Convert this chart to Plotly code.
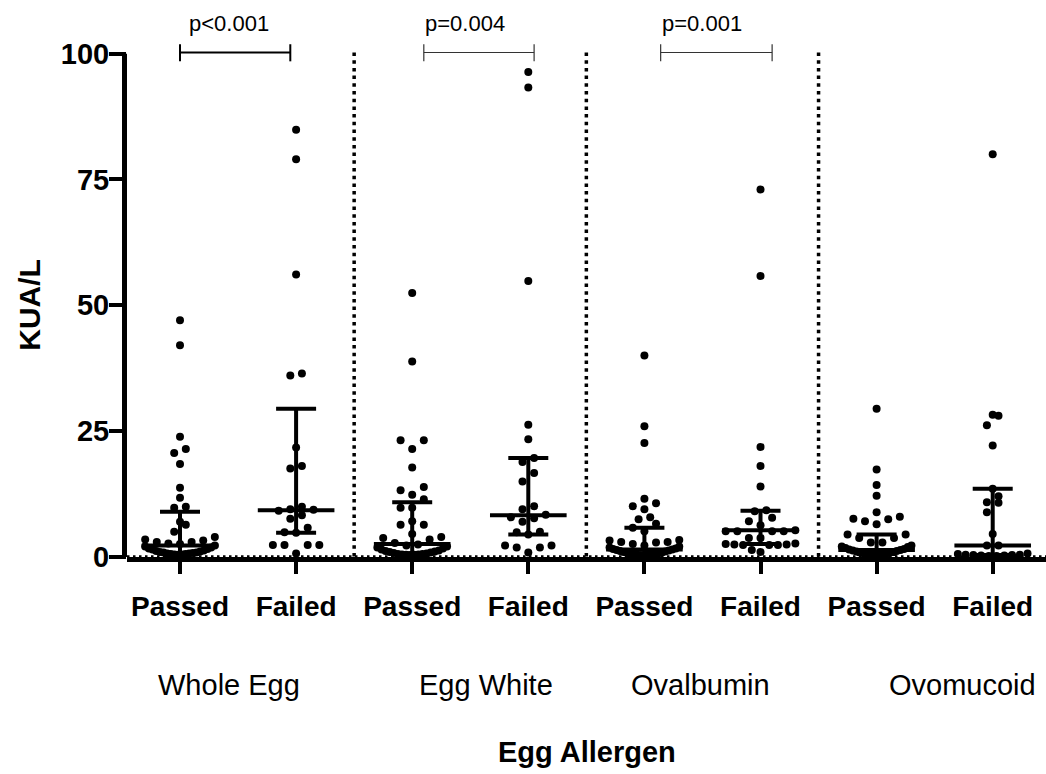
import numpy as np
import plotly.graph_objects as go

# Category axis: challenge outcome within each egg allergen
OUTCOMES = ["Passed", "Failed", "Passed", "Failed", "Passed", "Failed", "Passed", "Failed"]
ALLERGENS = ["Whole Egg", "Egg White", "Ovalbumin", "Ovomucoid"]
Y_TICKS = [0, 25, 50, 75, 100]

# Specific IgE (KUA/L) per child
whole_egg_passed = [47.0, 42.0, 23.8, 21.4, 20.6, 18.4, 13.7, 11.7, 9.9, 9.7,
                    6.9, 6.3, 4.9, 3.9, 3.4, 3.2, 2.9, 2.9, 2.6, 2.5,
                    2.2, 2.0, 1.8, 1.6, 1.5, 1.4, 1.2, 1.1, 1.0, 0.9,
                    0.8, 0.8, 0.7, 0.6, 0.6, 0.5, 0.5, 0.4, 0.4, 0.35]
whole_egg_failed = [84.9, 79.0, 56.1, 36.4, 36.0, 21.7, 18.0, 17.5, 9.9, 9.4,
                    9.3, 9.1, 8.2, 7.5, 5.7, 4.8, 4.7, 2.3, 2.3, 2.3, 2.3, 0.6]
egg_white_passed = [52.4, 38.8, 23.1, 23.1, 21.4, 17.7, 13.8, 13.2, 12.3, 11.4,
                    9.7, 9.7, 7.0, 6.3, 6.3, 4.5, 3.9, 3.7, 3.4, 2.7,
                    2.4, 2.2, 2.0, 1.8, 1.6, 1.4, 1.2, 1.1, 1.0, 0.9,
                    0.8, 0.7, 0.6, 0.5, 0.5, 0.4, 0.4, 0.35, 0.35, 0.3]
egg_white_failed = [96.4, 93.3, 54.8, 26.2, 23.3, 19.6, 18.8, 16.6, 14.9, 10.0,
                    9.4, 8.3, 7.8, 7.6, 6.9, 4.9, 4.8, 4.4, 2.2, 2.2, 1.8, 1.8, 0.8]
ovalbumin_passed = [40.0, 25.9, 22.6, 11.5, 10.6, 10.0, 9.4, 7.8, 7.4, 6.5,
                    5.7, 5.0, 3.3, 3.2, 2.9, 2.9, 2.8, 2.5, 2.2, 2.0,
                    1.8, 1.6, 1.5, 1.4, 1.3, 1.2, 1.1, 1.0, 0.9, 0.8,
                    0.7, 0.6, 0.5, 0.5, 0.4, 0.4, 0.35, 0.35, 0.3, 0.3]
ovalbumin_failed = [73.0, 55.8, 21.8, 18.0, 13.9, 9.2, 9.0, 7.7, 7.0, 6.2,
                    5.2, 5.0, 5.0, 5.0, 5.0, 3.7, 3.7, 2.6, 2.5, 2.4,
                    2.4, 2.3, 2.3, 2.3, 1.3, 0.9]
ovomucoid_passed = [29.4, 17.3, 14.2, 12.1, 8.8, 7.9, 7.5, 7.4, 7.0, 6.4,
                    4.4, 4.4, 3.7, 3.7, 2.8, 2.8, 2.2, 2.0, 1.9, 1.7,
                    1.5, 1.4, 1.3, 1.2, 1.1, 1.0, 0.9, 0.8, 0.7, 0.6,
                    0.5, 0.5, 0.4, 0.4, 0.35, 0.35]
ovomucoid_failed = [80.0, 28.2, 28.0, 26.1, 22.1, 13.5, 12.0, 10.8, 10.7, 8.8,
                    4.5, 2.2, 2.2, 0.6, 0.5, 0.35, 0.35, 0.3, 0.3, 0.2, 0.2, 0.1, 0.1]

# Median and interquartile range per column
medians = [2.2, 9.2, 2.5, 8.2, 1.4, 5.2, 1.3, 2.2]
lower_quartiles = [0.6, 4.7, 0.6, 4.4, 0.5, 2.5, 0.5, 0.3]
upper_quartiles = [8.9, 29.4, 10.8, 19.6, 5.7, 9.1, 4.4, 13.5]

p_values = ["p<0.001", "p=0.004", "p=0.001"]

columns = [whole_egg_passed, whole_egg_failed, egg_white_passed, egg_white_failed,
           ovalbumin_passed, ovalbumin_failed, ovomucoid_passed, ovomucoid_failed]

FONT = "Liberation Sans"
X_RANGE = [-0.4565, 7.459]
Y_RANGE = [-0.1, 110.7]


def swarm_offsets(values, row_height=1.9, step=0.1, max_half=0.3):
    """Spread points horizontally in rows so that close values don't overlap.
    Within a row the smallest values sit in the middle and larger ones move outward."""
    vals = np.asarray(values, dtype=float)
    order = np.argsort(vals, kind="stable")
    offsets = np.zeros(len(vals))
    rows, current, start = [], [], None
    for idx in order:
        if start is None or vals[idx] - start > row_height:
            if current:
                rows.append(current)
            current, start = [], vals[idx]
        current.append(idx)
    if current:
        rows.append(current)
    for row in rows:
        n = len(row)
        spacing = step if n <= 1 else min(step, max_half / ((n - 1) / 2))
        for k, idx in enumerate(row):
            if n % 2 == 1:
                slot = ((k + 1) // 2) * (-1 if k % 2 else 1)
            else:
                slot = (k // 2 + 0.5) * (-1 if k % 2 == 0 else 1)
            offsets[idx] = slot * spacing
    return offsets


fig = go.Figure()

# Individual values
for i, vals in enumerate(columns):
    fig.add_trace(go.Scatter(
        x=i + swarm_offsets(vals), y=vals, mode="markers",
        marker=dict(size=8, color="black"),
        cliponaxis=False, showlegend=False, hoverinfo="y",
    ))

# Median bar with interquartile whiskers
cats = np.arange(len(columns))
fig.add_trace(go.Scatter(
    x=cats, y=medians, mode="markers",
    marker=dict(size=1, color="black"),
    error_x=dict(type="constant", value=0.33, width=0, thickness=4, color="black"),
    error_y=dict(type="data", symmetric=False,
                 array=np.subtract(upper_quartiles, medians),
                 arrayminus=np.subtract(medians, lower_quartiles),
                 width=20, thickness=4, color="black"),
    showlegend=False, hoverinfo="skip",
))

shapes = []
# Dotted separators between allergens
for xs in [1.5, 3.5, 5.5]:
    shapes.append(dict(type="line", xref="x", yref="y", x0=xs, x1=xs, y0=0, y1=100.5,
                       line=dict(color="black", width=3.5, dash="3.5px,4.2px")))
# Dotted zero reference line
shapes.append(dict(type="line", xref="x", yref="y", x0=X_RANGE[0], x1=X_RANGE[1], y0=0, y1=0,
                   line=dict(color="black", width=2.5, dash="2.5px,3.5px")))
# Y axis line from 0 to 100
shapes.append(dict(type="line", xref="paper", yref="y", xsizemode="pixel", xanchor=0,
                   x0=-2.5, x1=-2.5, y0=-1.2, y1=100,
                   line=dict(color="black", width=5)))

# Significance brackets
brackets = [(0.0, 0.95, 2.0, "black"), (2.1, 3.05, 1.2, "#333333"), (4.14, 5.1, 1.2, "#333333")]
for x0, x1, w, col in brackets:
    shapes.append(dict(type="line", xref="x", yref="y", x0=x0, x1=x1, y0=100.26, y1=100.26,
                       line=dict(color=col, width=w)))
    for xe in (x0, x1):
        shapes.append(dict(type="line", xref="x", yref="y", x0=xe, x1=xe, y0=98.5, y1=101.9,
                           line=dict(color=col, width=w)))

annotations = []
for x, txt in zip([0.42, 2.455, 4.5], p_values):
    annotations.append(dict(x=x, y=106.1, xref="x", yref="y", text=txt, showarrow=False,
                            font=dict(family=FONT, size=22, color="black"),
                            xanchor="center", yanchor="middle"))
for x, txt in zip([0.42, 2.636, 4.479, 6.736], ALLERGENS):
    annotations.append(dict(x=x, y=-0.23, xref="x", yref="paper", text=txt, showarrow=False,
                            font=dict(family=FONT, size=29, color="black"),
                            xanchor="center", yanchor="middle"))
annotations.append(dict(x=0.5, y=-0.35, xref="paper", yref="paper", text="<b>Egg Allergen</b>",
                        showarrow=False, font=dict(family=FONT, size=29, color="black"),
                        xanchor="center", yanchor="middle"))
annotations.append(dict(x=-0.106, y=50, xref="paper", yref="y", text="<b>KUA/L</b>",
                        textangle=-90, showarrow=False,
                        font=dict(family=FONT, size=30, color="black"),
                        xanchor="center", yanchor="middle"))

fig.update_layout(
    width=1046, height=774,
    margin=dict(l=127, r=0, t=0, b=217),
    plot_bgcolor="white", paper_bgcolor="white",
    shapes=shapes, annotations=annotations,
    xaxis=dict(range=X_RANGE, tickmode="array", tickvals=list(cats), ticktext=OUTCOMES,
               showline=True, linewidth=5, linecolor="black",
               ticks="outside", ticklen=12, tickwidth=4, tickcolor="black",
               ticklabelstandoff=8,
               showgrid=False, zeroline=False,
               tickfont=dict(family=FONT, size=28, color="black", weight="bold")),
    yaxis=dict(range=Y_RANGE, tickmode="array", tickvals=Y_TICKS,
               showline=False, ticks="outside", ticklen=17, tickwidth=4, tickcolor="black",
               ticklabelstandoff=-6,
               showgrid=False, zeroline=False,
               tickfont=dict(family=FONT, size=29, color="black", weight="bold")),
)

fig.write_html("out.html")
